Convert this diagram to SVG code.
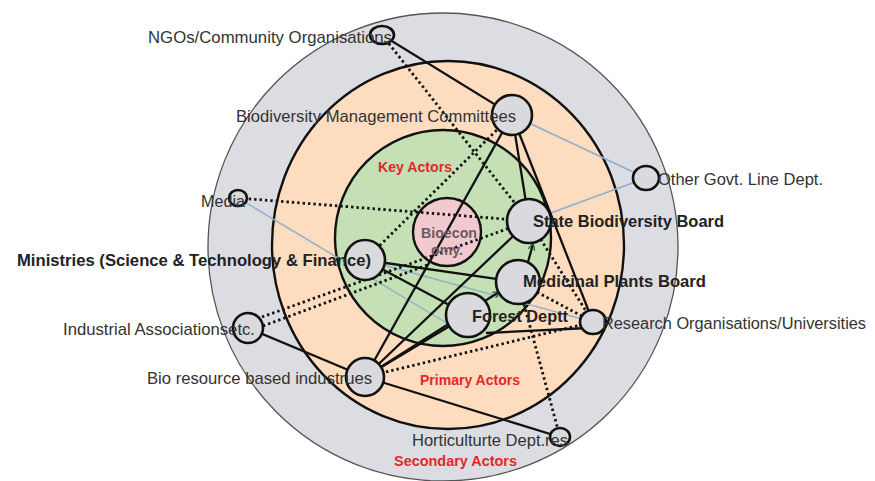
<svg xmlns="http://www.w3.org/2000/svg" width="875" height="481" viewBox="0 0 875 481">
  <style>
    .ring { stroke-width: 2.4; }
    .node { fill: #d9d9de; stroke: #111; stroke-width: 2.6; }
    .solid { stroke: #111; stroke-width: 2.3; fill: none; }
    .dot { stroke: #111; stroke-width: 2.8; fill: none; stroke-dasharray: 2.4 3; }
    .thin { stroke: #8eaed0; stroke-width: 1.4; fill: none; }
    .lbl { font-family: "Liberation Sans", Arial, sans-serif; font-size: 17px; fill: #333; }
    .key { font-family: "Liberation Sans", Arial, sans-serif; font-size: 17px; font-weight: bold; fill: #222; }
    .zone { font-family: "Liberation Sans", Arial, sans-serif; font-size: 14px; font-weight: bold; fill: #e5262b; }
    .core { font-family: "Liberation Sans", Arial, sans-serif; font-size: 15px; font-weight: bold; fill: #6a5a60; }
  </style>
  <defs>
    <marker id="arrow" viewBox="0 0 10 10" refX="9" refY="5" markerWidth="7" markerHeight="7" orient="auto" markerUnits="userSpaceOnUse">
      <path d="M0,0 L10,5 L0,10" fill="none" stroke="#2e6b2e" stroke-width="2"/>
    </marker>
  </defs>

  <rect width="875" height="481" fill="#ffffff"/>

  <!-- actor rings and the bioeconomy core -->
  <g id="rings">
    <ellipse cx="443" cy="247" rx="235" ry="234" fill="#dcdde2" stroke="#555" stroke-width="1.3"/>
    <ellipse cx="448" cy="245" rx="176" ry="184" fill="#fddcbf" stroke="#111" class="ring"/>
    <circle cx="443" cy="238" r="108" fill="#c5e0b4" stroke="#111" class="ring"/>
    <circle cx="447" cy="232" r="34" fill="#f2c9cf" stroke="#111" class="ring"/>
  </g>

  <!-- connectors -->
  <g id="connectors">
    <!-- weak links -->
    <line class="thin" x1="238" y1="198" x2="455" y2="328"/>
    <line class="thin" x1="365" y1="260" x2="593" y2="322"/>
    <line class="thin" x1="512" y1="115" x2="646" y2="178"/>
    <line class="thin" x1="529" y1="221" x2="646" y2="178"/>

    <!-- informal links -->
    <line class="dot" x1="382" y1="35" x2="529" y2="221"/>
    <line class="dot" x1="512" y1="115" x2="365" y2="260"/>
    <line class="dot" x1="238" y1="198" x2="529" y2="221"/>
    <line class="dot" x1="262" y1="317" x2="529" y2="221"/>
    <line class="dot" x1="263" y1="326" x2="430" y2="264"/>
    <line class="dot" x1="365" y1="377" x2="593" y2="322"/>
    <line class="dot" x1="560" y1="437" x2="518" y2="282"/>
    <line class="dot" x1="518" y1="282" x2="593" y2="322"/>
    <line class="dot" x1="529" y1="221" x2="593" y2="322"/>

    <!-- formal links -->
    <line class="solid" x1="382" y1="35" x2="512" y2="115"/>
    <line class="solid" x1="512" y1="115" x2="529" y2="221"/>
    <line class="solid" x1="512" y1="115" x2="593" y2="322"/>
    <line class="solid" x1="512" y1="115" x2="365" y2="377"/>
    <line class="solid" x1="365" y1="260" x2="518" y2="282"/>
    <line class="solid" x1="365" y1="260" x2="468" y2="315"/>
    <line class="solid" x1="486" y1="333" x2="588" y2="328"/>
    <line class="solid" x1="365" y1="377" x2="529" y2="221"/>
    <line class="solid" x1="365" y1="377" x2="468" y2="315"/>
    <line class="solid" x1="365" y1="377" x2="560" y2="437"/>
    <line class="solid" x1="248" y1="328" x2="365" y2="377"/>
    <line class="solid" x1="365" y1="377" x2="499" y2="292" marker-end="url(#arrow)"/>
    <line class="solid" x1="528" y1="262" x2="533" y2="244" marker-end="url(#arrow)"/>
  </g>

  <!-- core label -->
  <g id="bioeconomy">
    <text class="core" x="421" y="238" textLength="56" lengthAdjust="spacingAndGlyphs">Bioecon</text>
    <text class="core" x="431" y="255" textLength="32" lengthAdjust="spacingAndGlyphs">omy.</text>
  </g>

  <!-- actors -->
  <g id="ngos">
    <ellipse class="node" cx="382" cy="35" rx="12" ry="9"/>
    <text class="lbl" x="148" y="43" textLength="244" lengthAdjust="spacingAndGlyphs">NGOs/Community Organisations</text>
  </g>
  <g id="bmc">
    <circle class="node" cx="512" cy="115" r="20"/>
    <text class="lbl" x="236" y="122" textLength="280" lengthAdjust="spacingAndGlyphs">Biodiversity Management Committees</text>
  </g>
  <g id="other-govt">
    <ellipse class="node" cx="646" cy="178" rx="13" ry="12"/>
    <text class="lbl" x="658" y="185" textLength="165" lengthAdjust="spacingAndGlyphs">Other Govt. Line Dept.</text>
  </g>
  <g id="media">
    <ellipse class="node" cx="238" cy="198" rx="9" ry="8"/>
    <text class="lbl" x="201" y="207" textLength="44" lengthAdjust="spacingAndGlyphs">Media</text>
  </g>
  <g id="sbb">
    <circle class="node" cx="529" cy="221" r="22"/>
    <text class="key" x="533" y="227" textLength="191" lengthAdjust="spacingAndGlyphs">State Biodiversity Board</text>
  </g>
  <g id="ministries">
    <circle class="node" cx="365" cy="260" r="20"/>
    <text class="key" x="17" y="266" textLength="354" lengthAdjust="spacingAndGlyphs">Ministries (Science &amp; Technology &amp; Finance)</text>
  </g>
  <g id="mpb">
    <circle class="node" cx="518" cy="282" r="22"/>
    <text class="key" x="523" y="287" textLength="183" lengthAdjust="spacingAndGlyphs">Medicinal Plants Board</text>
  </g>
  <g id="forest">
    <circle class="node" cx="468" cy="315" r="22"/>
    <text class="key" x="472" y="322" textLength="96" lengthAdjust="spacingAndGlyphs">Forest Deptt</text>
  </g>
  <g id="research">
    <ellipse class="node" cx="593" cy="322" rx="13" ry="12"/>
    <text class="lbl" x="602" y="329" style="font-size:16px" textLength="264" lengthAdjust="spacingAndGlyphs">Research Organisations/Universities</text>
  </g>
  <g id="industrial">
    <circle class="node" cx="248" cy="328" r="15"/>
    <text class="lbl" x="63" y="335" textLength="192" lengthAdjust="spacingAndGlyphs">Industrial Associationsetc.</text>
  </g>
  <g id="bio-industries">
    <circle class="node" cx="365" cy="377" r="19"/>
    <text class="lbl" x="147" y="384" textLength="225" lengthAdjust="spacingAndGlyphs">Bio resource based industrues</text>
  </g>
  <g id="horticulture">
    <ellipse class="node" cx="560" cy="437" rx="10" ry="9"/>
    <text class="lbl" x="412" y="446" textLength="156" lengthAdjust="spacingAndGlyphs">Horticulturte Dept.res</text>
  </g>

  <!-- zone labels -->
  <g id="zones">
    <text class="zone" x="378" y="172" textLength="74" lengthAdjust="spacingAndGlyphs">Key Actors</text>
    <text class="zone" x="420" y="385" textLength="100" lengthAdjust="spacingAndGlyphs">Primary Actors</text>
    <text class="zone" x="394" y="466" textLength="123" lengthAdjust="spacingAndGlyphs">Secondary  Actors</text>
  </g>
</svg>
